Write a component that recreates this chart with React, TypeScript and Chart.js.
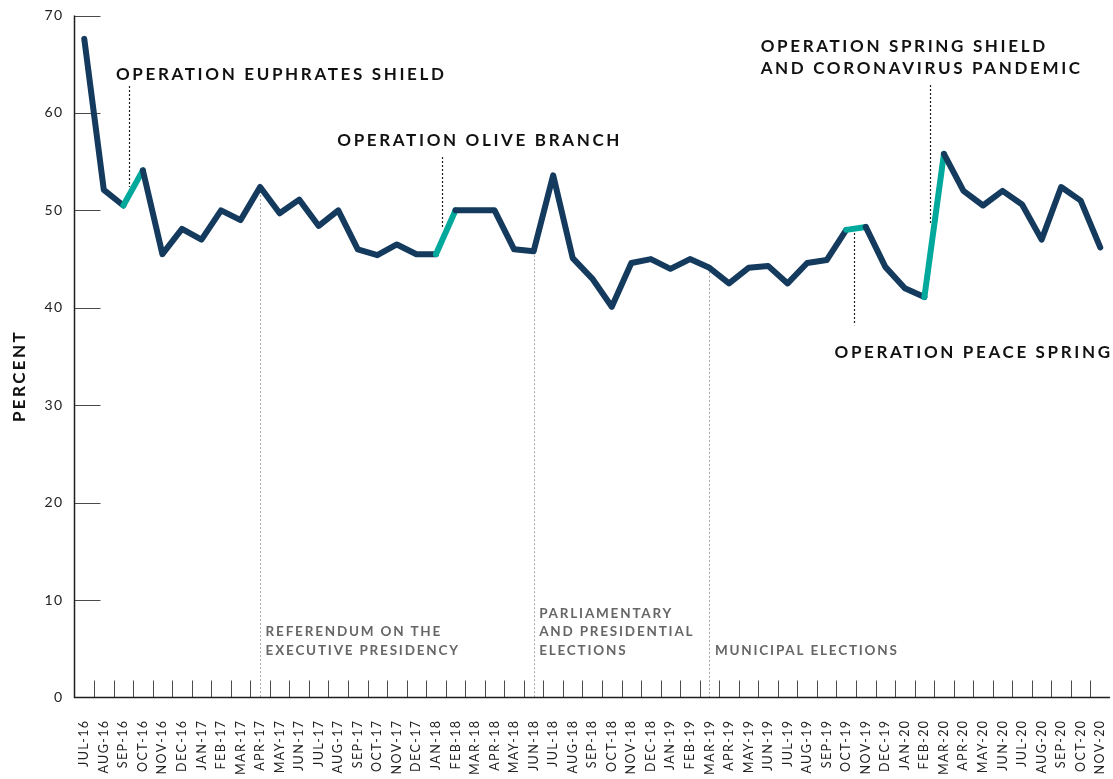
import React, { useEffect, useRef } from "react";
import { Chart, registerables } from "chart.js";

Chart.register(...registerables);

// ---------- DATA ----------
const months: string[] = [
  "JUL-16", "AUG-16", "SEP-16", "OCT-16", "NOV-16", "DEC-16",
  "JAN-17", "FEB-17", "MAR-17", "APR-17", "MAY-17", "JUN-17", "JUL-17", "AUG-17", "SEP-17", "OCT-17", "NOV-17", "DEC-17",
  "JAN-18", "FEB-18", "MAR-18", "APR-18", "MAY-18", "JUN-18", "JUL-18", "AUG-18", "SEP-18", "OCT-18", "NOV-18", "DEC-18",
  "JAN-19", "FEB-19", "MAR-19", "APR-19", "MAY-19", "JUN-19", "JUL-19", "AUG-19", "SEP-19", "OCT-19", "NOV-19", "DEC-19",
  "JAN-20", "FEB-20", "MAR-20", "APR-20", "MAY-20", "JUN-20", "JUL-20", "AUG-20", "SEP-20", "OCT-20", "NOV-20",
];

const percent: number[] = [
  67.6, 52.1, 50.5, 54.1, 45.5, 48.1,
  47.0, 50.0, 49.0, 52.4, 49.7, 51.1, 48.4, 50.0, 46.0, 45.4, 46.5, 45.5,
  45.5, 50.0, 50.0, 50.0, 46.0, 45.8, 53.6, 45.1, 43.0, 40.1, 44.6, 45.0,
  44.0, 45.0, 44.1, 42.5, 44.1, 44.3, 42.5, 44.6, 44.9, 48.0, 48.3, 44.2,
  42.0, 41.1, 55.8, 52.0, 50.5, 52.0, 50.6, 47.0, 52.4, 51.0, 46.2,
];

// segments (by starting month index) highlighted in teal: military operations
const operationSegmentStarts: number[] = [2, 18, 39, 43];

const yMin = 0;
const yMax = 70;
const yStep = 10;

// political events (gray dotted lines)
const eventIndex: number[] = [9, 23, 32];
const eventLabels: string[][] = [
  ["REFERENDUM ON THE", "EXECUTIVE PRESIDENCY"],
  ["PARLIAMENTARY", "AND PRESIDENTIAL", "ELECTIONS"],
  ["MUNICIPAL ELECTIONS"],
];
const eventLabelBaselineValue = 4.41;

// operation annotations (data coordinates: fractional month index, percent)
const operationLabels: string[][] = [
  ["OPERATION EUPHRATES SHIELD"],
  ["OPERATION OLIVE BRANCH"],
  ["OPERATION SPRING SHIELD", "AND CORONAVIRUS PANDEMIC"],
  ["OPERATION PEACE SPRING"],
];
const operationLabelX: number[] = [1.62, 12.95, 34.62, 38.4];
const operationLabelY: number[] = [63.38, 56.6, 66.28, 34.85];
const leaderX: number[] = [2.28, 18.33, 43.3, 39.42];
const leaderFrom: number[] = [62.76, 55.48, 62.87, 47.68];
const leaderTo: number[] = [52.4, 48.19, 48.5, 38.2];

// ---------- STYLE ----------
const NAVY = "#143a5e";
const TEAL = "#00a99c";
const FONT = "Lato, 'Open Sans', sans-serif";

const decorPlugin = {
  id: "decor",
  beforeUpdate(chart: any) {
    chart.ctx.letterSpacing = "1.4px";
  },
  beforeDraw(chart: any) {
    chart.ctx.letterSpacing = "1.4px";
  },
  beforeDatasetsDraw(chart: any) {
    const { ctx, chartArea: ca, scales } = chart;
    const x = scales.x;
    const y = scales.y;
    ctx.save();
    // gray event lines
    ctx.strokeStyle = "#a8a8a8";
    ctx.lineWidth = 1;
    ctx.setLineDash([2, 2]);
    eventIndex.forEach((idx) => {
      const px = Math.round(x.getPixelForValue(idx)) + 0.5;
      ctx.beginPath();
      ctx.moveTo(px, y.getPixelForValue(percent[idx]));
      ctx.lineTo(px, ca.bottom);
      ctx.stroke();
    });
    ctx.setLineDash([]);

    // inward tick marks
    ctx.strokeStyle = "#4a4a4a";
    ctx.lineWidth = 1;
    for (let i = 1; i < months.length; i++) {
      const px = Math.round(x.getPixelForValue(i - 0.5)) + 0.5;
      ctx.beginPath();
      ctx.moveTo(px, ca.bottom);
      ctx.lineTo(px, ca.bottom - 17);
      ctx.stroke();
    }
    for (let v = yMin + yStep; v <= yMax; v += yStep) {
      const py = Math.round(y.getPixelForValue(v)) + 0.5;
      ctx.beginPath();
      ctx.moveTo(ca.left, py);
      ctx.lineTo(ca.left + 26, py);
      ctx.stroke();
    }

    // axis lines
    ctx.strokeStyle = "#1e1e1e";
    ctx.lineWidth = 1.5;
    ctx.beginPath();
    ctx.moveTo(ca.left, y.getPixelForValue(yMax));
    ctx.lineTo(ca.left, ca.bottom);
    ctx.lineTo(ca.right, ca.bottom);
    ctx.stroke();

    // event labels
    ctx.fillStyle = "#666666";
    ctx.font = `bold 13.5px ${FONT}`;
    ctx.letterSpacing = "1.8px";
    ctx.textAlign = "left";
    ctx.textBaseline = "alphabetic";
    const baseY = y.getPixelForValue(eventLabelBaselineValue);
    eventIndex.forEach((idx, k) => {
      const lines = eventLabels[k];
      const px = x.getPixelForValue(idx) + 5.5;
      lines.forEach((line, j) => {
        ctx.fillText(line, px, baseY - (lines.length - 1 - j) * 18.5);
      });
    });
    ctx.restore();
  },
  afterDatasetsDraw(chart: any) {
    const { ctx, scales } = chart;
    const x = scales.x;
    const y = scales.y;
    ctx.save();
    // leaders
    ctx.strokeStyle = "#222";
    ctx.lineWidth = 1.2;
    ctx.setLineDash([2, 2]);
    leaderX.forEach((lx, k) => {
      const px = Math.round(x.getPixelForValue(lx)) + 0.5;
      ctx.beginPath();
      ctx.moveTo(px, y.getPixelForValue(leaderFrom[k]));
      ctx.lineTo(px, y.getPixelForValue(leaderTo[k]));
      ctx.stroke();
    });
    ctx.setLineDash([]);
    // operation labels
    ctx.fillStyle = "#111";
    ctx.font = `bold 17px ${FONT}`;
    ctx.letterSpacing = "2.65px";
    ctx.textAlign = "left";
    ctx.textBaseline = "alphabetic";
    operationLabels.forEach((lines, k) => {
      const px = x.getPixelForValue(operationLabelX[k]);
      const py = y.getPixelForValue(operationLabelY[k]);
      lines.forEach((line, j) => ctx.fillText(line, px, py + j * 22.3));
    });

    // y-axis title
    ctx.font = `bold 17px ${FONT}`;
    ctx.letterSpacing = "2.4px";
    ctx.fillStyle = "#111";
    ctx.textAlign = "center";
    ctx.textBaseline = "middle";
    ctx.translate(20, 376);
    ctx.rotate(-Math.PI / 2);
    ctx.fillText("PERCENT", 0, 0);
    ctx.restore();
    ctx.letterSpacing = "1.4px";
  },
};

export default function App() {
  const canvasRef = useRef<HTMLCanvasElement>(null);

  useEffect(() => {
    const canvas = canvasRef.current;
    if (!canvas) return;
    const chart = new Chart(canvas, {
      type: "line",
      data: {
        labels: months,
        datasets: [
          {
            data: percent,
            borderColor: NAVY,
            borderWidth: 6,
            borderJoinStyle: "round",
            borderCapStyle: "round",
            pointRadius: 0,
            pointHoverRadius: 0,
            tension: 0,
            fill: false,
            segment: {
              borderColor: (c: any) =>
                operationSegmentStarts.includes(c.p0DataIndex) ? TEAL : NAVY,
            },
          },
        ],
      },
      options: {
        animation: false,
        responsive: true,
        maintainAspectRatio: false,
        layout: { padding: { top: 15.5, right: 0, left: 0, bottom: 0 } },
        plugins: {
          legend: { display: false },
          tooltip: { enabled: false },
          title: { display: false },
        },
        scales: {
          x: {
            type: "category",
            offset: true,
            grid: { display: false, drawTicks: false, offset: true },
            border: { display: false },
            ticks: {
              autoSkip: false,
              maxRotation: 90,
              minRotation: 90,
              padding: 22,
              color: "#222",
              font: { family: FONT, size: 12.5 },
            },
            afterFit: (s: any) => {
              s.height = 81.5;
              s.paddingLeft = 0;
              s.paddingRight = 0;
              s.paddingTop = 0;
              s.paddingBottom = 0;
            },
          },
          y: {
            min: yMin,
            max: yMax,
            grid: { display: false, drawTicks: false },
            border: { display: false },
            ticks: {
              stepSize: yStep,
              padding: 11,
              color: "#222",
              font: { family: FONT, size: 14 },
            },
            afterFit: (s: any) => {
              s.width = 74.5;
              s.paddingTop = 0;
              s.paddingBottom = 0;
              s.paddingLeft = 0;
              s.paddingRight = 0;
            },
          },
        },
      },
      plugins: [decorPlugin],
    });
    const fonts: any = (document as any).fonts;
    if (fonts && fonts.load) {
      Promise.all([fonts.load(`bold 17px Lato`), fonts.load(`12px Lato`)]).then(() => chart.update());
    }
    return () => chart.destroy();
  }, []);

  return (
    <div
      style={{
        position: "absolute",
        left: 0,
        top: 0,
        width: 1113,
        height: 779,
        background: "#fff",
      }}
    >
      <canvas ref={canvasRef} />
    </div>
  );
}
